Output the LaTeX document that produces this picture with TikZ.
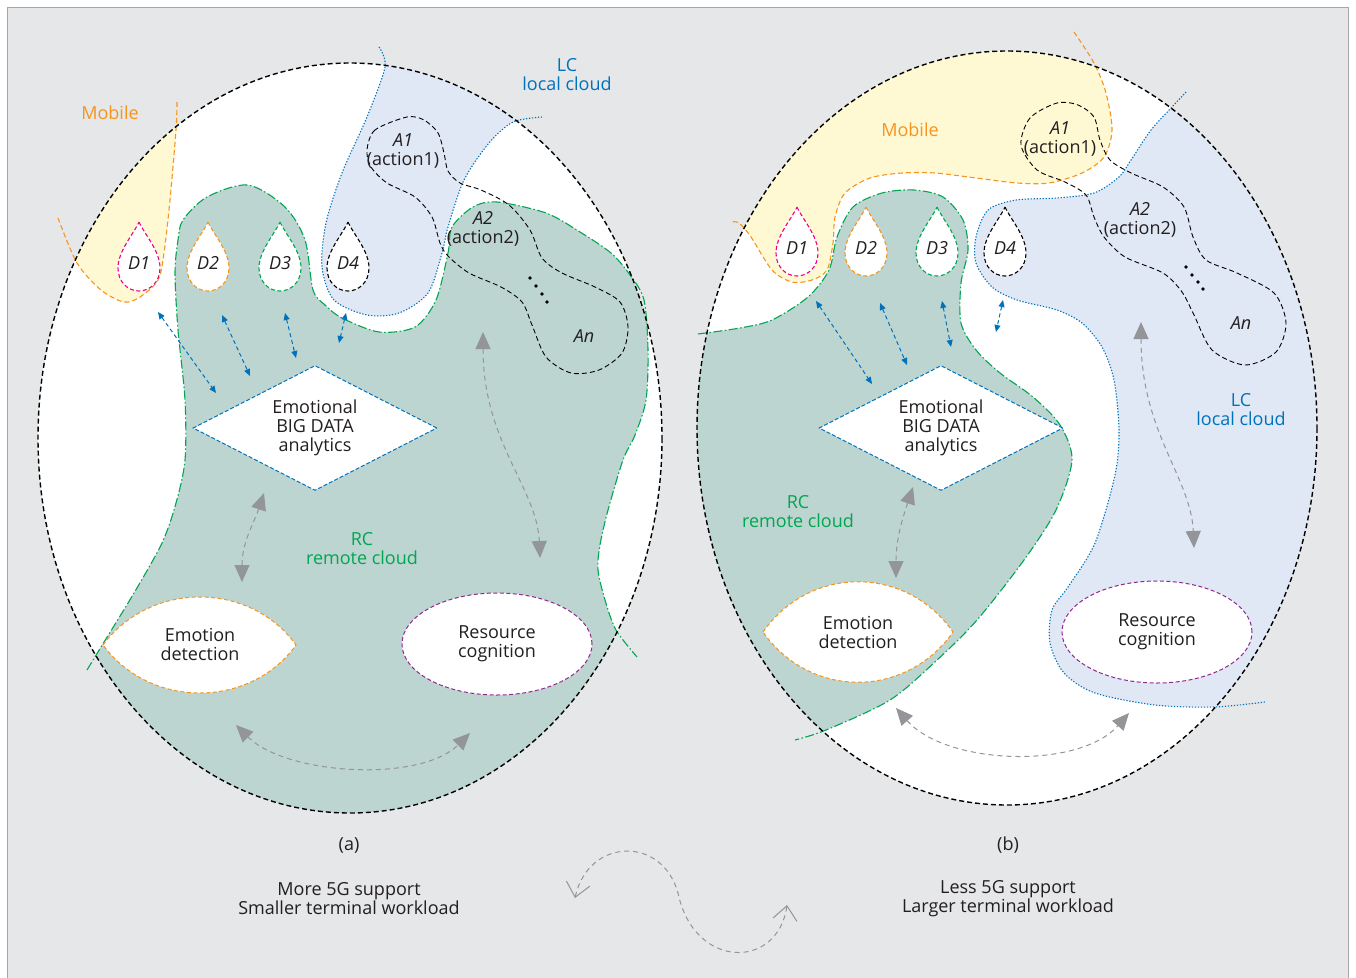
\documentclass[tikz,border=0pt]{standalone}
\usepackage{fontspec}
\setmainfont{Open Sans}
\usetikzlibrary{arrows.meta, positioning, shapes.geometric}

\definecolor{panelGray}{RGB}{230,231,232}
\definecolor{rcGreen}{RGB}{0,166,81}
\definecolor{rcFill}{RGB}{188,213,208}
\definecolor{mobOrange}{RGB}{247,148,29}
\definecolor{mobFill}{RGB}{255,249,211}
\definecolor{lcBlue}{RGB}{0,114,188}
\definecolor{lcFill}{RGB}{224,232,245}
\definecolor{dPink}{RGB}{236,0,140}
\definecolor{rgPurple}{RGB}{146,39,143}
\definecolor{flowGray}{RGB}{147,149,152}
\definecolor{inkGray}{RGB}{35,31,32}

% region borders, panel (a)
\newcommand{\mobA}{plot[smooth] coordinates {(177,102) (176,130) (170,200) (164,253) (158,280) (140,297) (124,302) (101,290) (77,263) (58,218)}}
\newcommand{\lcA}{plot[smooth] coordinates {(379,47) (385,67) (367,117) (342,173) (326,223) (322,267) (334,300) (367,315) (399,313) (428,293) (442,253) (448,227) (464,180) (489,143) (513,122) (542,117)}}
\newcommand{\rcA}{plot[smooth] coordinates {(87,670) (101,647) (134,593) (162,543) (176,503) (185,460) (185,400) (178,330) (175,273) (178,240) (183,220) (207,197) (248,185) (285,207) (305,240) (313,290) (325,305) (342,318) (379,332) (415,327) (436,300) (448,253) (452,227) (473,207) (497,202) (546,213) (580,232) (611,253) (630,275) (644,300) (648,350) (646,400) (635,435) (623,460) (608,510) (600,545) (598,570) (605,600) (616,630) (637,657)}}
% region borders, panel (b)
\newcommand{\mobB}{plot[smooth] coordinates {(1074,32) (1094,63) (1106,93) (1112,130) (1104,157) (1082,173) (1049,183) (1017,183) (976,178) (935,173) (902,173) (870,178) (845,193) (835,217) (833,243) (827,270) (812,280) (792,282) (772,270) (751,237) (739,223) (731,222)}}
\newcommand{\lcB}{plot[smooth] coordinates {(1186,92) (1172,107) (1151,130) (1131,160) (1119,177) (1094,193) (1057,198) (1016,200) (988,210) (976,237) (976,263) (992,287) (1017,300) (1057,310) (1082,323) (1102,347) (1114,380) (1119,430) (1115,475) (1095,543) (1068,587) (1052,610) (1050,643) (1064,673) (1095,693) (1155,705) (1214,707) (1265,702)}}
\newcommand{\rcB}{plot[smooth] coordinates {(698,334) (740,328) (772,320) (808,297) (829,270) (837,237) (853,207) (882,193) (914,190) (943,197) (963,220) (968,250) (961,283) (961,323) (976,350) (1000,373) (1033,397) (1060,425) (1072,460) (1056,510) (1024,560) (977,620) (937,660) (890,700) (826,730) (795,740)}}
% teardrop round a D node
\newcommand{\teardrop}[3]{\draw[#3, fill=white, shift={(#1,#2)}] (0,-41) .. controls (6,-28) and (21,-12) .. (21,5) .. controls (21,19) and (11,28) .. (0,28) .. controls (-11,28) and (-21,19) .. (-21,5) .. controls (-21,-12) and (-6,-28) .. cycle;}

\begin{document}
\begin{tikzpicture}[x=1pt, y=-1pt, on grid,
  every node/.style={font=\fontsize{18}{19}\selectfont, text=inkGray, align=center, inner sep=0pt},
  panel/.style={draw=black, line width=1.4pt, dash pattern=on 5pt off 3pt},
  mobline/.style={draw=mobOrange, line width=1.1pt, dash pattern=on 5pt off 3pt},
  lcline/.style={draw=lcBlue, line width=1.1pt, dash pattern=on 1.3pt off 1.7pt},
  rcline/.style={draw=rcGreen, line width=1.1pt, dash pattern=on 9pt off 2.5pt on 1.5pt off 2.5pt},
  chain/.style={draw=black, line width=0.9pt, dash pattern=on 5pt off 3pt},
  dropline/.style={line width=1.1pt, dash pattern=on 4pt off 2.5pt},
  bigdata/.style={diamond, aspect=1.95, draw=lcBlue, line width=1pt, dash pattern=on 4pt off 2pt, fill=white, minimum width=244pt, minimum height=125pt},
  cognition/.style={ellipse, draw=rgPurple, line width=1pt, dash pattern=on 4pt off 2.5pt, fill=white, minimum width=190pt, minimum height=102pt},
  lens/.style={draw=mobOrange, line width=1pt, dash pattern=on 4pt off 2.5pt, fill=white},
  linkarrow/.style={draw=lcBlue, line width=1pt, dash pattern=on 4pt off 3pt, {Triangle[length=7pt,width=6pt]}-{Triangle[length=7pt,width=6pt]}},
  flowarrow/.style={draw=flowGray, line width=1pt, dash pattern=on 5pt off 4pt, {Triangle[length=17pt,width=15pt]}-{Triangle[length=17pt,width=15pt]}},
  turnarrow/.style={draw=flowGray, line width=1pt, dash pattern=on 5pt off 4pt, {Straight Barb[length=14pt,width=24pt]}-{Straight Barb[length=14pt,width=24pt]}}]

\useasboundingbox (0,0) rectangle (1356,977);
\fill[white] (0,0) rectangle (1356,977);
\filldraw[fill=panelGray, draw=gray!70, line width=0.8pt] (7,7) rectangle (1348,990);

% panel (a)
\fill[white] (350,438) ellipse [x radius=312, y radius=375];
\begin{scope}
  \clip (350,438) ellipse [x radius=312, y radius=375];
  \fill[mobFill] \mobA -- (20,218) -- (20,102) -- cycle;
  \fill[lcFill] \lcA -- (542,20) -- (379,20) -- cycle;
  \fill[rcFill] \rcA -- (700,700) -- (700,900) -- (0,900) -- (0,670) -- cycle;
\end{scope}
\draw[mobline] \mobA;
\draw[lcline] \lcA;
\draw[rcline] \rcA;
\draw[panel] (350,438) ellipse [x radius=312, y radius=375];

\draw[chain] plot[smooth cycle] coordinates {(407,117) (375,130) (367,150) (371,167) (387,183) (415,197) (432,217) (440,243) (448,256) (469,273) (501,287) (522,302) (532,325) (546,357) (571,373) (599,370) (622,353) (628,327) (620,302) (595,287) (562,273) (542,258) (530,230) (509,205) (481,190) (460,183) (448,171) (444,153) (438,133) (424,120)};
\foreach \p in {(530,278),(536,286),(542,294),(547,302)} \fill \p circle[radius=1.8pt];

\teardrop{139}{263}{draw=dPink, dropline}
\teardrop{208}{263}{draw=mobOrange, dropline}
\teardrop{280}{263}{draw=rcGreen, dropline}
\teardrop{348}{263}{draw=black, dropline}
\node (dA1) at (139,263) {\textit{D1}};
\node (dA2) at (208,263) {\textit{D2}};
\node (dA3) at (280,263) {\textit{D3}};
\node (dA4) at (348,263) {\textit{D4}};

\node[bigdata] (bdA) at (315,428) {Emotional\\BIG DATA\\analytics};
\draw[lens] (103,645) .. controls (150,581) and (250,581) .. (296,645) .. controls (250,709) and (150,709) .. cycle;
\node (edA) at (200,644) {Emotion\\detection};
\node[cognition] (rgA) at (497,644) {Resource\\cognition};

\node[text=mobOrange] (mobLA) at (110,113) {Mobile};
\node[text=lcBlue] (lcLA) at (567,75) {LC\\local cloud};
\node[text=rcGreen] (rcLA) at (362,549) {RC\\remote cloud};
\node (a1A) at (403,151) {\textit{A1}\\(action1)};
\node (a2A) at (483,229) {\textit{A2}\\(action2)};
\node (anA) at (584,336) {\textit{An}};

\path (158,312) coordinate (uA1) (216,393) coordinate (vA1)
      (222,315) coordinate (uA2) (250,376) coordinate (vA2)
      (285,313) coordinate (uA3) (296,358) coordinate (vA3)
      (346,313) coordinate (uA4) (339,343) coordinate (vA4);
\foreach \i in {1,...,4} \draw[linkarrow] (uA\i) -- (vA\i);

\path (483,332) coordinate (gA1s) (540,558) coordinate (gA1e)
      (264,493) coordinate (gA2s) (242,582) coordinate (gA2e)
      (236,725) coordinate (gA3s) (470,733) coordinate (gA3e);
\draw[flowarrow] (gA1s) .. controls +(0,110) and +(-3,-70) .. (gA1e);
\draw[flowarrow] (gA2s) .. controls +(-10,30) and +(0,-40) .. (gA2e);
\draw[flowarrow] (gA3s) .. controls +(50,50) and +(-50,50) .. (gA3e);

% panel (b)
\fill[white] (1007,428) ellipse [x radius=310, y radius=377];
\begin{scope}
  \clip (1007,428) ellipse [x radius=310, y radius=377];
  \fill[mobFill] \mobB -- (690,222) -- (690,20) -- (1074,20) -- cycle;
  \fill[lcFill] \lcB -- (1340,702) -- (1340,92) -- cycle;
  \fill[rcFill] \rcB -- (650,740) -- (650,334) -- cycle;
\end{scope}
\draw[mobline] \mobB;
\draw[lcline] \lcB;
\draw[rcline] \rcB;
\draw[panel] (1007,428) ellipse [x radius=310, y radius=377];

\draw[chain] plot[smooth cycle] coordinates {(1057,103) (1030,118) (1021,145) (1037,170) (1065,182) (1086,195) (1094,217) (1104,237) (1125,257) (1163,273) (1182,292) (1194,315) (1212,350) (1245,365) (1276,352) (1286,323) (1274,293) (1237,273) (1206,260) (1193,237) (1184,207) (1163,187) (1131,173) (1110,160) (1100,140) (1094,117) (1078,105)};
\foreach \p in {(1186,267),(1192,275),(1198,282),(1203,289)} \fill \p circle[radius=1.8pt];

\teardrop{797}{248}{draw=dPink, dropline}
\teardrop{866}{248}{draw=mobOrange, dropline}
\teardrop{937}{248}{draw=rcGreen, dropline}
\teardrop{1005}{248}{draw=black, dropline}
\node (dB1) at (797,248) {\textit{D1}};
\node (dB2) at (866,248) {\textit{D2}};
\node (dB3) at (937,248) {\textit{D3}};
\node (dB4) at (1005,248) {\textit{D4}};

\node[bigdata] (bdB) at (941,428) {Emotional\\BIG DATA\\analytics};
\draw[lens] (763,632) .. controls (810,565) and (906,565) .. (953,632) .. controls (906,699) and (810,699) .. cycle;
\node (edB) at (858,632) {Emotion\\detection};
\node[cognition] (rgB) at (1157,632) {Resource\\cognition};

\node[text=mobOrange] (mobLB) at (910,130) {Mobile};
\node[text=lcBlue] (lcLB) at (1241,410) {LC\\local cloud};
\node[text=rcGreen] (rcLB) at (798,512) {RC\\remote cloud};
\node (a1B) at (1060,139) {\textit{A1}\\(action1)};
\node (a2B) at (1140,220) {\textit{A2}\\(action2)};
\node (anB) at (1241,323) {\textit{An}};

\path (816,301) coordinate (uB1) (872,384) coordinate (vB1)
      (880,303) coordinate (uB2) (907,365) coordinate (vB2)
      (942,301) coordinate (uB3) (951,347) coordinate (vB3)
      (1003,300) coordinate (uB4) (996,332) coordinate (vB4);
\foreach \i in {1,...,4} \draw[linkarrow] (uB\i) -- (vB\i);

\path (1141,322) coordinate (gB1s) (1194,548) coordinate (gB1e)
      (913,487) coordinate (gB2s) (896,578) coordinate (gB2e)
      (896,708) coordinate (gB3s) (1129,713) coordinate (gB3e);
\draw[flowarrow] (gB1s) .. controls +(0,110) and +(-3,-70) .. (gB1e);
\draw[flowarrow] (gB2s) .. controls +(-10,30) and +(0,-40) .. (gB2e);
\draw[flowarrow] (gB3s) .. controls +(50,57) and +(-50,57) .. (gB3e);

% captions
\node (capA) at (349,845) {(a)};
\node (txtA) [below=54pt of capA] {More 5G support\\Smaller terminal workload};
\node (capB) at (1008,845) {(b)};
\node (txtB) [below=54pt of capB] {Less 5G support\\Larger terminal workload};

\coordinate (tA) at (575,898);
\coordinate (tB) at (787,905);
\draw[turnarrow] (tA) .. controls (588,838) and (662,835) .. (678,893) .. controls (694,970) and (778,970) .. (tB);
\end{tikzpicture}
\end{document}
